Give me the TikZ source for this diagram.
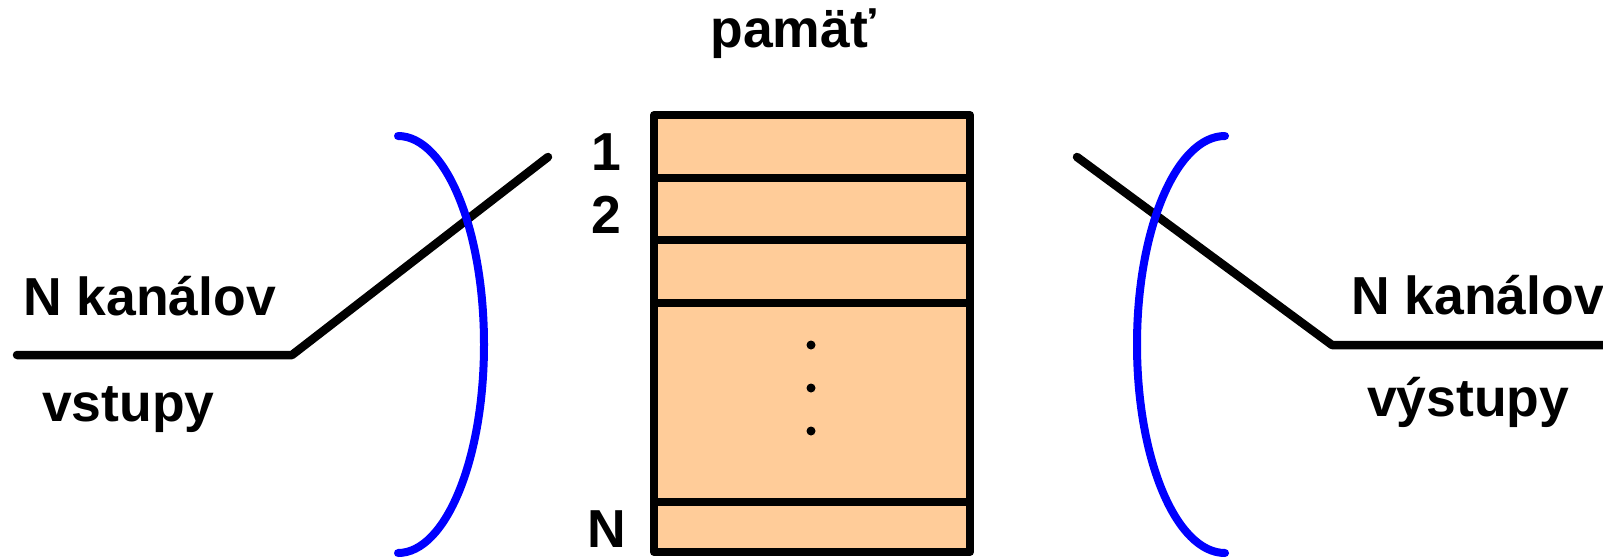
\documentclass[tikz,border=0pt]{standalone}
\usepackage{fontspec}
\setmainfont{Liberation Sans}
\begin{document}
\begin{tikzpicture}[x=1pt,y=-1pt,
  blk/.style={line width=8.5pt,line cap=round,line join=round,black},
  brace/.style={line width=8pt,line cap=round,blue},
  lbl/.style={font=\fontsize{53.5}{60}\selectfont\bfseries,inner sep=0pt,anchor=base},
  lblw/.style={lbl,anchor=base west}]
\path[use as bounding box] (0,0) rectangle (1603,557);
% memory box
\coordinate (tl) at (654,115);
\coordinate (br) at (970,552);
\fill[fill={rgb,255:red,255;green,204;blue,153}] (tl) rectangle (br);
\foreach \y in {177.5,240,303,502} \draw[line width=8pt] (654,\y) -- (970,\y);
\draw[line width=8pt,line join=round] (tl) rectangle (br);
\foreach \y [count=\i] in {345,388,431} \fill (811,\y) circle[radius=4.5] coordinate (dot\i);
% labels
\node[lbl] (mem) at (793,47) {pamäť};
\node[lbl] (one) at (606,170) {1};
\node[lbl] (two) at (606,233) {2};
\node[lbl] (nn) at (607,547) {N};
\node[lblw] (inN) at (23,315) {N kanálov};
\node[lblw] (inL) at (42,421) {vstupy};
\node[lblw] (outN) at (1351,314) {N kanálov};
\node[lblw] (outL) at (1367,416) {výstupy};
% input switch
\coordinate (i0) at (17,355);
\coordinate (i1) at (292,355);
\coordinate (i2) at (548,157);
\draw[blk] (i0) -- (i1) -- (i2);
\coordinate (ltop) at (398,136);
\draw[brace] (ltop) arc[start angle=-90,end angle=90,x radius=86,y radius=208.5];
% output switch
\coordinate (o0) at (1077,157);
\coordinate (o1) at (1332,345);
\coordinate (o2) at (1610,345);
\draw[blk] (o0) -- (o1) -- (o2);
\coordinate (rtop) at (1225,136);
\draw[brace] (rtop) arc[start angle=270,end angle=90,x radius=88,y radius=208.5];
\end{tikzpicture}
\end{document}
